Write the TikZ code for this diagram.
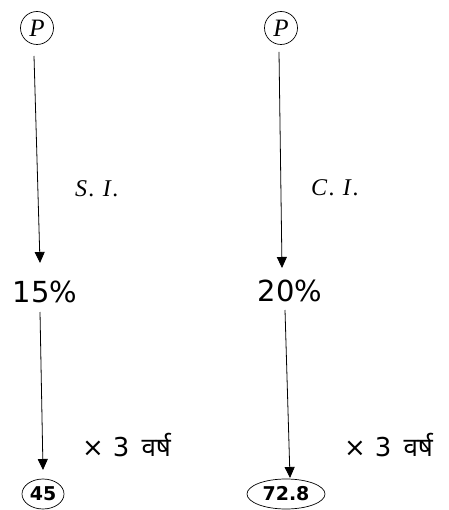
\documentclass[tikz,border=0pt]{standalone}
\usepackage{fontspec}
\newfontfamily\numfont{DejaVu Sans}
\newfontfamily\numboldfont{DejaVu Sans Bold}
\newfontfamily\serifit{Liberation Serif Italic}
\newfontfamily\hindifont[Script=Devanagari]{Noto Sans}
\usetikzlibrary{arrows.meta,calc,shapes.geometric}
\tikzset{
  pcirc/.style={circle,draw,line width=0.7pt,minimum size=33pt,inner sep=0pt,font=\serifit\fontsize{25}{27}\selectfont},
  lbl/.style={inner sep=0pt,font=\serifit\fontsize{24}{26}\selectfont},
  pct/.style={inner sep=0pt,font=\numfont\fontsize{29}{31}\selectfont},
  yrs/.style={inner sep=0pt,anchor=west,font=\numfont\fontsize{26}{28}\selectfont},
  res/.style={ellipse,draw,line width=0.7pt,minimum height=30pt,inner sep=0pt,font=\numboldfont\fontsize{19}{21}\selectfont},
  arr/.style={draw,line width=0.8pt,-{Triangle[length=11pt,width=10pt]}},
}
\begin{document}
\begin{tikzpicture}[x=1pt,y=-1pt]
\useasboundingbox[fill=white] (0,0) rectangle (448,510);
% left column
\node[pcirc] (PL) at (37,28) {P};
\node[lbl] (SI) at (97,189) {S\kern2pt.\kern8pt I\kern2pt.};
\node[pct] (pctL) at (45,292) {15\%};
\node[yrs] (yrsL) at (82,445) {×\hspace{9pt}3\hspace{12pt}{\hindifont\bfseries वर्ष}};
\node[res,minimum width=42pt] (rL) at (43,494) {45};
% right column
\node[pcirc] (PR) at (281,28) {P};
\node[lbl] (CI) at (335,188) {C\kern2pt.\kern8pt I\kern2pt.};
\node[pct] (pctR) at (290,291) {20\%};
\node[yrs] (yrsR) at (344,445) {×\hspace{9pt}3\hspace{12pt}{\hindifont\bfseries वर्ष}};
\node[res,minimum width=78pt] (rR) at (286,494) {72.8};
% arrows
\draw[arr] ($(PL.center)+(-3,28)$) -- ($(pctL.center)+(-5,-29)$);
\draw[arr] ($(pctL.center)+(-5,20)$) -- ($(rL.center)+(0,-24)$);
\draw[arr] ($(PR.center)+(-2,24)$) -- ($(pctR.center)+(-8,-23)$);
\draw[arr] ($(pctR.center)+(-5,19)$) -- ($(rR.center)+(4,-16)$);
\end{tikzpicture}
\end{document}
